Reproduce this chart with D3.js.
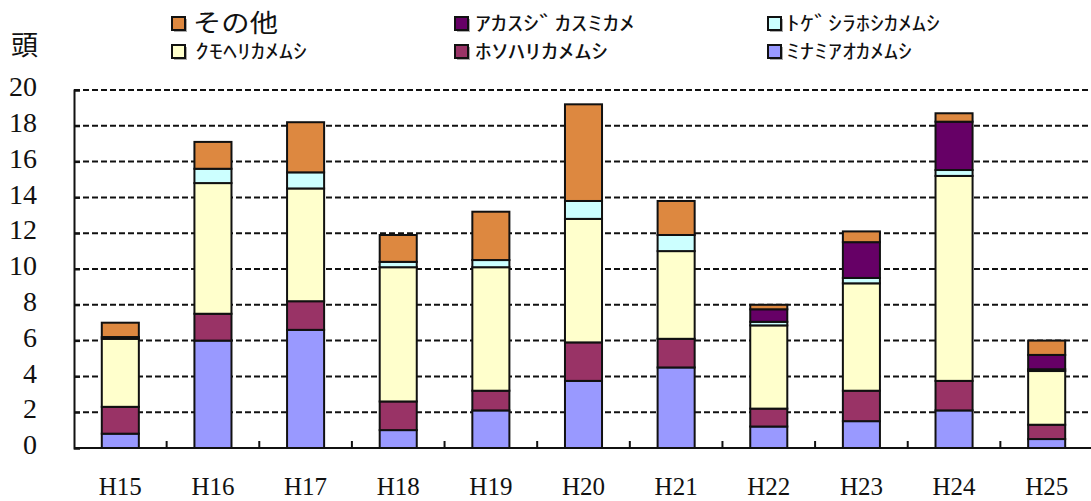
<!DOCTYPE html>
<html>
<head>
<meta charset="utf-8">
<script src="https://d3js.org/d3.v7.min.js"></script>
<style>
  body { margin: 0; background: #fff; }
  svg { display: block; }
  .tickLabel { font-family: "Liberation Serif", serif; fill: #111; }
  .legendText { font-family: "Noto Sans CJK JP", sans-serif; fill: #111; }
</style>
</head>
<body>
<div id="chart"></div>
<script>
// years (Heisei)
let categories = ["H15", "H16", "H17", "H18", "H19", "H20", "H21", "H22", "H23", "H24", "H25"];

// stacked from bottom to top
let minami  = [0.8, 6.0, 6.6, 1.0, 2.1, 3.75, 4.5, 1.2, 1.5, 2.1, 0.5];
let hoso    = [1.5, 1.5, 1.6, 1.6, 1.1, 2.15, 1.6, 1.0, 1.7, 1.65, 0.8];
let kumo    = [3.8, 7.3, 6.3, 7.5, 6.9, 6.9, 4.9, 4.65, 6.0, 11.45, 3.0];
let toge    = [0, 0.8, 0.9, 0.3, 0.4, 1.0, 0.9, 0.2, 0.3, 0.33, 0.1];
let akasuji = [0.1, 0, 0, 0, 0, 0, 0, 0.7, 2.0, 2.7, 0.8];
let other   = [0.8, 1.5, 2.8, 1.5, 2.7, 5.4, 1.9, 0.25, 0.6, 0.47, 0.8];

let seriesNames = ["ﾐﾅﾐｱｵｶﾒﾑｼ", "ﾎｿﾊﾘｶﾒﾑｼ", "ｸﾓﾍﾘｶﾒﾑｼ", "ﾄｹﾞｼﾗﾎｼｶﾒﾑｼ", "ｱｶｽｼﾞｶｽﾐｶﾒ", "その他"];
let seriesValues = [minami, hoso, kumo, toge, akasuji, other];
let colors = ["#9999ff", "#993366", "#ffffcc", "#ccffff", "#660066", "#dd8840"];

let yTicks = [0, 2, 4, 6, 8, 10, 12, 14, 16, 18, 20];

let width = 1091, height = 501;

let svg = d3.select("#chart").append("svg")
  .attr("width", width)
  .attr("height", height);

let x = d3.scaleBand()
  .domain(categories)
  .range([74, 1093]);

let y = d3.scaleLinear()
  .domain([0, 20])
  .range([448, 90]);

let barW = x.bandwidth() * 0.4;

// build rows for d3.stack
let keys = d3.range(seriesNames.length).map(String);
let rows = categories.map(function(c, i) {
  let r = { cat: c };
  keys.forEach(function(k) { r[k] = seriesValues[+k][i]; });
  return r;
});
let stacked = d3.stack().keys(keys)(rows);

// gridlines
svg.append("g")
  .selectAll("line")
  .data(yTicks.filter((d) => d > 0))
  .enter().append("line")
    .attr("x1", 74)
    .attr("x2", 1093)
    .attr("y1", (d) => y(d))
    .attr("y2", (d) => y(d))
    .attr("stroke", "#111")
    .attr("stroke-width", 2)
    .attr("stroke-dasharray", "6,3");

// bars
svg.append("g")
  .selectAll("g")
  .data(stacked)
  .enter().append("g")
    .attr("fill", (d, i) => colors[i])
  .selectAll("rect")
  .data((d) => d)
  .enter().append("rect")
    .attr("x", (d) => x(d.data.cat) + (x.bandwidth() - barW) / 2)
    .attr("y", (d) => y(d[1]))
    .attr("width", barW)
    .attr("height", (d) => y(d[0]) - y(d[1]))
    .attr("stroke", "#111")
    .attr("stroke-width", 2);

// y axis
let yAxis = d3.axisLeft(y)
  .tickValues(yTicks)
  .tickSize(-6)
  .tickPadding(37)
  .tickFormat(d3.format("d"));

let yG = svg.append("g")
  .attr("transform", "translate(74,0)")
  .call(yAxis);

yG.select(".domain").attr("stroke", "#111").attr("stroke-width", 2);
yG.selectAll(".tick line").attr("stroke", "#111").attr("stroke-width", 2);
yG.selectAll(".tick text")
  .attr("class", "tickLabel")
  .attr("font-size", 28)
  .attr("dy", "0.2em");

// x axis: ticks sit between categories
let xG = svg.append("g")
  .attr("transform", "translate(0,448)");

xG.append("line")
  .attr("x1", 74)
  .attr("x2", 1093)
  .attr("stroke", "#111")
  .attr("stroke-width", 2);

xG.selectAll(".xtick")
  .data(categories.slice(1))
  .enter().append("line")
    .attr("class", "xtick")
    .attr("x1", (d) => x(d))
    .attr("x2", (d) => x(d))
    .attr("y1", 0)
    .attr("y2", -7)
    .attr("stroke", "#111")
    .attr("stroke-width", 2);

xG.selectAll(".xlabel")
  .data(categories)
  .enter().append("text")
    .attr("class", "tickLabel")
    .attr("x", (d) => x(d) + x.bandwidth() / 2)
    .attr("y", 47)
    .attr("text-anchor", "middle")
    .attr("font-size", 25)
    .text((d) => d);

// unit label
svg.append("text")
  .attr("class", "legendText")
  .attr("x", 11)
  .attr("y", 55)
  .attr("font-size", 27)
  .text("頭");

// legend, laid out as in the original (3 columns x 2 rows)
let legendItems = [
  { s: 5, col: 0, row: 0, w: 85, size: 25 },
  { s: 4, col: 1, row: 0, w: 160, size: 20 },
  { s: 3, col: 2, row: 0, w: 154, size: 20 },
  { s: 2, col: 0, row: 1, w: 112, size: 20 },
  { s: 1, col: 1, row: 1, w: 133, size: 20 },
  { s: 0, col: 2, row: 1, w: 126, size: 20 }
];
let colX = [172, 455, 768];
let rowY = [17, 45];
let textX = [23, 20, 18];

let legend = svg.append("g")
  .selectAll("g")
  .data(legendItems)
  .enter().append("g")
    .attr("transform", (d) => "translate(" + colX[d.col] + "," + rowY[d.row] + ")");

legend.append("rect")
  .attr("x", 2)
  .attr("y", 2)
  .attr("width", 13)
  .attr("height", 13)
  .attr("fill", "#aaa");

legend.append("rect")
  .attr("width", 13)
  .attr("height", 13)
  .attr("fill", (d) => colors[d.s])
  .attr("stroke", "#111")
  .attr("stroke-width", 2);

legend.append("text")
  .attr("class", "legendText")
  .attr("x", (d) => d.s === 5 ? 21 : textX[d.col])
  .attr("y", (d) => d.s === 5 ? 15 : 14)
  .attr("font-size", (d) => d.size)
  .attr("textLength", (d) => d.w)
  .attr("lengthAdjust", "spacingAndGlyphs")
  .text((d) => seriesNames[d.s]);
</script>
</body>
</html>
